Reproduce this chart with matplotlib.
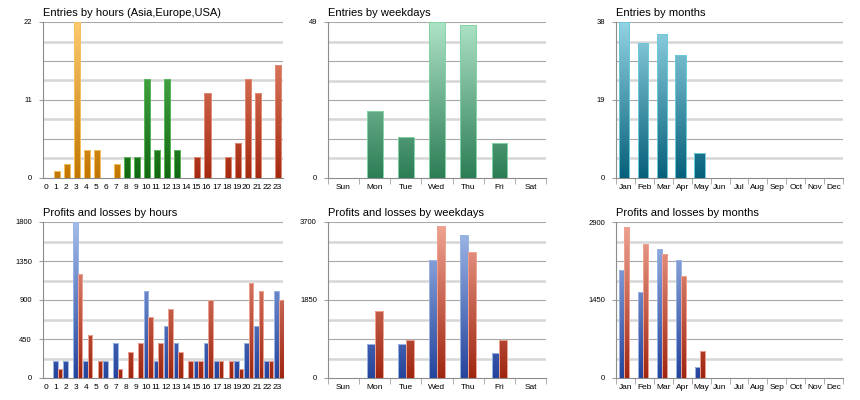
import numpy as np
import matplotlib.pyplot as plt
from matplotlib.colors import LinearSegmentedColormap

plt.rcParams['font.family'] = ['Liberation Sans', 'DejaVu Sans']

# data
hours = [str(h) for h in range(24)]
hour_region = ['asia'] * 8 + ['europe'] * 7 + ['usa'] * 9
entries_hours = [0, 1, 2, 22, 4, 4, 0, 2, 3, 3, 14, 4, 14, 4, 0, 3, 12, 0, 3, 5, 14, 12, 0, 16]
weekdays = ['Sun', 'Mon', 'Tue', 'Wed', 'Thu', 'Fri', 'Sat']
entries_weekdays = [0, 21, 13, 49, 48, 11, 0]
months = ['Jan', 'Feb', 'Mar', 'Apr', 'May', 'Jun', 'Jul', 'Aug', 'Sep', 'Oct', 'Nov', 'Dec']
entries_months = [38, 33, 35, 30, 6, 0, 0, 0, 0, 0, 0, 0]

profit_hours = [0, 200, 200, 1800, 200, 0, 200, 400, 0, 0, 1000, 200, 600, 400, 0, 200, 400, 200, 0, 200, 400, 600, 200, 1000]
loss_hours = [0, 100, 0, 1200, 500, 200, 0, 100, 300, 400, 700, 400, 800, 300, 200, 200, 900, 200, 200, 100, 1100, 1000, 200, 900]
profit_weekdays = [0, 800, 800, 2800, 3400, 600, 0]
loss_weekdays = [0, 1600, 900, 3600, 3000, 900, 0]
profit_months = [2000, 1600, 2400, 2200, 200, 0, 0, 0, 0, 0, 0, 0]
loss_months = [2800, 2500, 2300, 1900, 500, 0, 0, 0, 0, 0, 0, 0]

# y tick labels shown on each panel
yticks_eh = [0, 11, 22]
yticks_ew = [0, 49]
yticks_em = [0, 19, 38]
yticks_ph = [0, 450, 900, 1350, 1800]
yticks_pw = [0, 1850, 3700]
yticks_pm = [0, 1450, 2900]

# colours: (top, bottom, edge)
region_colors = {
    'asia': ('#fdcb70', '#c27600', '#f5c060'),
    'europe': ('#5cc05c', '#126812', '#5ab85a'),
    'usa': ('#ec9078', '#a42a10', '#e08a74'),
}
green_w = ('#aee3c6', '#2c7d55', '#82d2a6')
teal_m = ('#92d3e4', '#06607a', '#6ccade')
blue_pl = ('#a4bdea', '#25449c', '#9ab4e4')
red_pl = ('#f2a595', '#9e2610', '#eea292')


def grad_bars(ax, x, h, width, cols, ymax):
    top, bottom, edge = cols
    bars = ax.bar(x, h, width, color='none', edgecolor=edge, linewidth=0.7, zorder=4)
    cmap = LinearSegmentedColormap.from_list('g', [bottom, top])
    grad = np.linspace(1, 0, 256).reshape(-1, 1)
    for b in bars:
        if b.get_height() <= 0:
            continue
        im = ax.imshow(grad, cmap=cmap, aspect='auto', zorder=3,
                       extent=[b.get_x(), b.get_x() + b.get_width(), 0, ymax],
                       interpolation='bicubic')
        im.set_clip_path(b)
    return bars


def style(ax, title, yticks, labels, boundaries):
    ymax = yticks[-1]
    n = len(labels)
    for k in range(1, 9):
        y = ymax * k / 8
        if k % 2:
            ax.axhline(y, color='#d6d6d6', lw=1.8, zorder=1)
        else:
            ax.axhline(y, color='#a8a8a8', lw=0.8, zorder=1)
    ax.set_ylim(0, ymax)
    ax.set_yticks(yticks)
    ax.set_yticklabels([str(v) for v in yticks], fontsize=5.5)
    ax.tick_params(axis='y', which='both', length=3, color='#a0a0a0', pad=5)
    ax.set_xticks(range(n))
    ax.set_xticklabels(labels, fontsize=6)
    ax.tick_params(axis='x', which='major', length=0, pad=4)
    if boundaries:
        ax.set_xticks(np.arange(n + 1) - 0.5, minor=True)
        ax.tick_params(axis='x', which='minor', length=4, color='#a0a0a0')
    for s in ['top', 'right']:
        ax.spines[s].set_visible(False)
    ax.spines['left'].set_color('#8c8c8c')
    ax.spines['bottom'].set_color('#8c8c8c')
    ax.spines['left'].set_linewidth(0.8)
    ax.spines['bottom'].set_linewidth(0.8)
    ax.set_title(title, loc='left', fontsize=8, pad=4)


fig = plt.figure(figsize=(8.6, 4), dpi=100)
h_top, h_bot, hh = 0.555, 0.055, 0.39
ax1 = fig.add_axes([0.050, h_top, 0.279, hh])
ax2 = fig.add_axes([0.3814, h_top, 0.2535, hh])
ax3 = fig.add_axes([0.7163, h_top, 0.264, hh])
ax4 = fig.add_axes([0.050, h_bot, 0.279, hh])
ax5 = fig.add_axes([0.3814, h_bot, 0.2535, hh])
ax6 = fig.add_axes([0.7163, h_bot, 0.264, hh])

x_h = np.arange(len(hours))
x_w = np.arange(len(weekdays))
x_m = np.arange(len(months))

# entries by hours
for reg in region_colors:
    idx = [i for i, r in enumerate(hour_region) if r == reg]
    grad_bars(ax1, x_h[idx] + 0.1, [entries_hours[i] for i in idx], 0.6, region_colors[reg], yticks_eh[-1])
style(ax1, 'Entries by hours (Asia,Europe,USA)', yticks_eh, hours, False)
ax1.set_xlim(-0.25, 23.6)

grad_bars(ax2, x_w, entries_weekdays, 0.5, green_w, yticks_ew[-1])
style(ax2, 'Entries by weekdays', yticks_ew, weekdays, True)
ax2.set_xlim(-0.5, 6.5)

grad_bars(ax3, x_m - 0.08, entries_months, 0.56, teal_m, yticks_em[-1])
style(ax3, 'Entries by months', yticks_em, months, True)
ax3.set_xlim(-0.5, 11.5)

# profits and losses
bw = 0.45
grad_bars(ax4, x_h - bw / 2 + 0.2, profit_hours, bw, blue_pl, yticks_ph[-1])
grad_bars(ax4, x_h + bw / 2 + 0.2, loss_hours, bw, red_pl, yticks_ph[-1])
style(ax4, 'Profits and losses by hours', yticks_ph, hours, False)
ax4.set_xlim(-0.25, 23.6)

bw = 0.25
grad_bars(ax5, x_w - bw / 2, profit_weekdays, bw, blue_pl, yticks_pw[-1])
grad_bars(ax5, x_w + bw / 2, loss_weekdays, bw, red_pl, yticks_pw[-1])
style(ax5, 'Profits and losses by weekdays', yticks_pw, weekdays, True)
ax5.set_xlim(-0.5, 6.5)

bw = 0.27
grad_bars(ax6, x_m - bw / 2 - 0.08, profit_months, bw, blue_pl, yticks_pm[-1])
grad_bars(ax6, x_m + bw / 2 - 0.08, loss_months, bw, red_pl, yticks_pm[-1])
style(ax6, 'Profits and losses by months', yticks_pm, months, True)
ax6.set_xlim(-0.5, 11.5)

fig.savefig('out.png', dpi=100)
